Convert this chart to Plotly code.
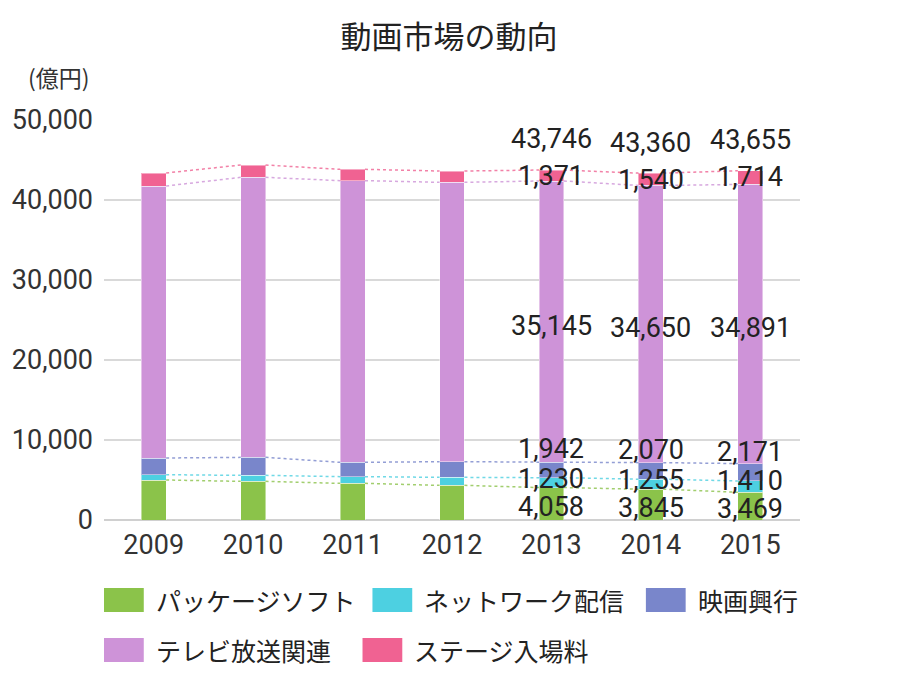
import plotly.graph_objects as go

years = ["2009", "2010", "2011", "2012", "2013", "2014", "2015"]
series_names = ["パッケージソフト", "ネットワーク配信", "映画興行", "テレビ放送関連", "ステージ入場料"]
package_soft = [5000, 4830, 4580, 4330, 4058, 3845, 3469]
network = [660, 750, 840, 1000, 1230, 1255, 1410]
cinema = [2090, 2250, 1790, 1960, 1942, 2070, 2171]
tv = [34000, 35000, 35210, 34920, 35145, 34650, 34891]
stage = [1625, 1545, 1410, 1415, 1371, 1540, 1714]
labeled_years = ["2013", "2014", "2015"]
y_ticks = [0, 10000, 20000, 30000, 40000, 50000]

colors = ["#8BC34A", "#4DD0E1", "#7986CB", "#CE93D8", "#F06292"]
series = [package_soft, network, cinema, tv, stage]

NUM_FONT = "Roboto, 'Noto Sans CJK JP'"
JP_FONT = "'Noto Sans CJK JP', 'Noto Sans', sans-serif"
BAR_W = 0.25

W, H = 900, 690
L, R, T, B = 100, 100, 120, 170
PW, PH = W - L - R, H - T - B


def px2x(px):
    return (px - L) / PW


def py2y(py):
    return (H - B - py) / PH


x = list(range(len(years)))
fig = go.Figure()

# cumulative tops
cum = []
run = [0] * len(years)
for s in series:
    run = [a + b for a, b in zip(run, s)]
    cum.append(run[:])

# dotted connector lines
for si, s in enumerate(series):
    lx, ly = [], []
    for i in range(len(years) - 1):
        lx += [i + BAR_W / 2, i + 1 - BAR_W / 2, None]
        ly += [cum[si][i], cum[si][i + 1], None]
    fig.add_trace(go.Scatter(x=lx, y=ly, mode="lines",
                             line=dict(color=colors[si], width=1.5, dash="dot"),
                             opacity=0.8, hoverinfo="skip", showlegend=False))

for si, s in enumerate(series):
    fig.add_trace(go.Bar(x=x, y=s, name=series_names[si], width=BAR_W,
                         marker=dict(color=colors[si],
                                     line=dict(color="rgba(255,255,255,0.45)", width=1)),
                         showlegend=False))

annotations = []
# data labels
for yr in labeled_years:
    i = years.index(yr)
    centers = [cum[si][i] - series[si][i] / 2 for si in range(len(series))]
    g = centers[0]
    c = max(centers[1], g + 3500)
    b = max(centers[2], c + 3700)
    p = centers[3]
    st = cum[-1][i] - 800
    total = cum[-1][i]
    ys = [g, c, b, p, st]
    shifts = [-3, -3, -3, -4, 0]
    for si in range(len(series)):
        annotations.append(dict(x=i, y=ys[si], xref="x", yref="y",
                                text=f"{series[si][i]:,}", showarrow=False,
                                font=dict(family=NUM_FONT, size=27, color="#222"),
                                xanchor="center", yanchor="middle", yshift=shifts[si]))
    annotations.append(dict(x=i, y=total + 4200, xref="x", yref="y",
                            text=f"{total:,}", showarrow=False,
                            font=dict(family=NUM_FONT, size=27, color="#222"),
                            xanchor="center", yanchor="middle", yshift=-3))

# unit label
annotations.append(dict(x=px2x(55), y=py2y(77), xref="paper", yref="paper",
                        text="(億円)", showarrow=False,
                        font=dict(family=JP_FONT, size=23, color="#333"),
                        xanchor="center", yanchor="middle"))

# custom legend
legend_items = [
    (0, 100, 600), (1, 370, 600), (2, 645, 600),
    (3, 100, 650), (4, 360, 650),
]
shapes = []
for si, sx, sy in legend_items:
    shapes.append(dict(type="rect", xref="paper", yref="paper",
                       x0=px2x(sx), x1=px2x(sx + 40), y0=py2y(sy + 12), y1=py2y(sy - 12),
                       fillcolor=colors[si], line=dict(width=0)))
    annotations.append(dict(x=px2x(sx + 50), y=py2y(sy), xref="paper", yref="paper",
                            text=series_names[si], showarrow=False,
                            font=dict(family=JP_FONT, size=25, color="#222"),
                            xanchor="left", yanchor="middle"))

fig.update_layout(
    width=W, height=H,
    margin=dict(l=L, r=R, t=T, b=B),
    paper_bgcolor="white", plot_bgcolor="white",
    barmode="stack",
    bargap=0.75,
    title=dict(text="動画市場の動向", x=449 / W, xanchor="center",
               y=1 - 37 / H, yanchor="middle", yref="container",
               font=dict(family=JP_FONT, size=31, color="#222")),
    xaxis=dict(range=[-0.5, len(years) - 0.5], tickmode="array", tickvals=x,
               ticktext=years, showgrid=False, zeroline=False, showline=False,
               ticks="", ticklabelstandoff=6,
               tickfont=dict(family=NUM_FONT, size=27, color="#333"),
               fixedrange=True),
    yaxis=dict(range=[0, 50000], tickmode="array", tickvals=y_ticks,
               ticktext=[f"{v:,}" for v in y_ticks],
               showgrid=True, gridcolor="#d9d9d9", gridwidth=2,
               zeroline=True, zerolinecolor="#d0d0d0", zerolinewidth=2,
               showline=False, ticks="", ticklabelstandoff=10,
               tickfont=dict(family=NUM_FONT, size=27, color="#333"),
               fixedrange=True),
    shapes=shapes,
    annotations=annotations,
    showlegend=False,
)

fig.write_html("out.html")
